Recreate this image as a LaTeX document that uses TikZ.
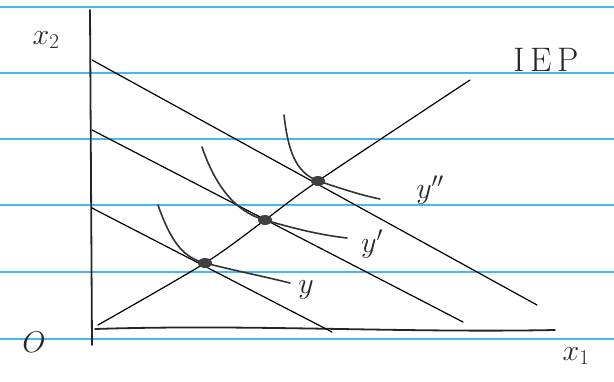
\RequirePackage{fix-cm}
\documentclass[tikz,border=0pt]{standalone}
\usepackage{fontspec}
\usetikzlibrary{shapes.geometric}
\begin{document}
\begin{tikzpicture}[x=1pt,y=-1pt,
  ruling/.style={draw={rgb,255:red,70;green,185;blue,235}, line width=2pt},
  axisline/.style={draw=black!85, line width=1.8pt, line cap=round},
  budget/.style={draw=black, line width=1.2pt, line cap=round},
  icurve/.style={draw=black!80, line width=1.6pt, line cap=round},
  blob/.style={ellipse, fill=black!75, minimum width=14pt, minimum height=10pt, inner sep=0pt},
  lab/.style={font=\fontsize{30}{32}\selectfont, text=black!85, inner sep=1pt}]
\useasboundingbox (0,0) rectangle (614,381);
\fill[white] (0,0) rectangle (614,381);
% ruled paper
\foreach \yy in {7,73,139,205,272,339}
  \draw[ruling] (0,\yy) -- (614,\yy);
% axes
\coordinate (ytop) at (90,10);
\coordinate (ybot) at (92,345);
\coordinate (xl) at (95,329);
\coordinate (xr) at (555,330);
\draw[axisline] (ytop) -- (ybot);
\draw[axisline] (xl) .. controls (250,324) and (400,333) .. (xr);
% budget lines
\coordinate (b1s) at (92,208); \coordinate (b1e) at (332,332);
\coordinate (b2s) at (92,130); \coordinate (b2e) at (463,322);
\coordinate (b3s) at (92,60);  \coordinate (b3e) at (537,305);
\draw[budget] (b1s) -- (b1e);
\draw[budget] (b2s) -- (b2e);
\draw[budget] (b3s) -- (b3e);
% tangency points
\coordinate (d1) at (205,263);
\coordinate (d2) at (265,220);
\coordinate (d3) at (318,181);
\coordinate (is) at (98,325);
\coordinate (ie) at (470,80);
\draw[budget] plot[smooth, tension=0.5] coordinates {(is) (d1) (d2) (d3) (ie)};
% indifference curves
\coordinate (c1s) at (158,205); \coordinate (c1e) at (290,283);
\coordinate (c2s) at (202,147); \coordinate (c2e) at (347,238);
\coordinate (c3s) at (284,115); \coordinate (c3e) at (380,199);
\draw[icurve] (c1s) .. controls (172,245) and (185,258) .. (d1) .. controls (232,270) and (262,276) .. (c1e);
\draw[icurve] (c2s) .. controls (215,185) and (235,212) .. (d2) .. controls (292,228) and (320,235) .. (c2e);
\draw[icurve] (c3s) .. controls (288,150) and (295,172) .. (d3) .. controls (340,188) and (360,195) .. (c3e);
\node[blob] (p1) at (d1) {};
\node[blob] (p2) at (d2) {};
\node[blob] (p3) at (d3) {};
% labels
\node[lab] (lx2) at (46,40) {$x_2$};
\node[lab, font=\fontsize{34}{36}\selectfont] (liep) at (546,60) {I\,E\,P};
\node[lab] (lypp) at (430,190) {$y''$};
\node[lab] (lyp) at (372,244) {$y'$};
\node[lab] (ly) at (306,290) {$y$};
\node[lab] (lo) at (34,342) {$O$};
\node[lab] (lx1) at (576,356) {$x_1$};
\end{tikzpicture}
\end{document}
